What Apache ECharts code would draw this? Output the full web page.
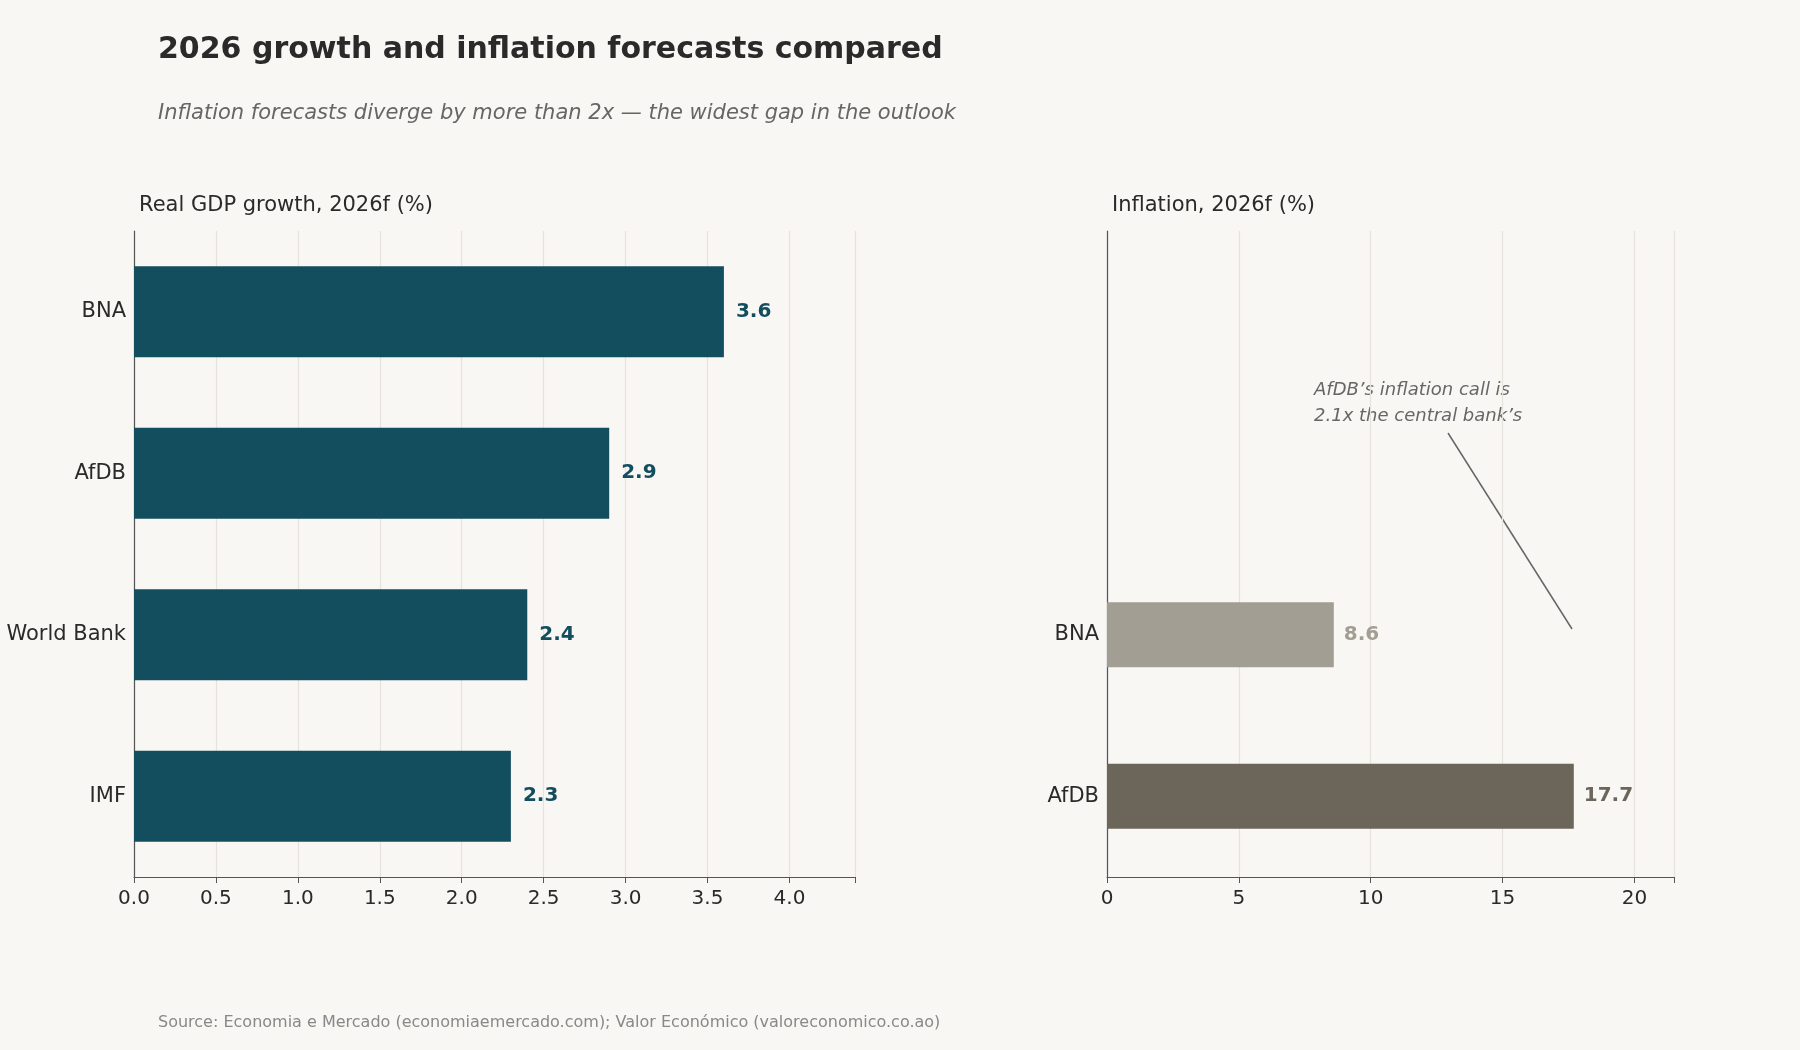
<!DOCTYPE html>
<html><head><meta charset="utf-8">
<script src="https://cdn.jsdelivr.net/npm/echarts@6/dist/echarts.min.js"></script>
<style>html,body{margin:0;background:#f9f7f4}#c{width:1800px;height:1050px}</style>
</head><body><div id="c"></div>
<script>
var gdpCats = ['BNA', 'AfDB', 'World Bank', 'IMF'];
var gdpVals = [3.6, 2.9, 2.4, 2.3];
var infCats = ['', ' ', 'BNA', 'AfDB'];
var infVals = [null, null, 8.6, 17.7];
var infColors = ['#a39e93', '#a39e93', '#a39e93', '#6b655a'];

var chart = echarts.init(document.getElementById('c'));
var font = 'DejaVu Sans';
var axisLine = {show: true, lineStyle: {color: '#555', width: 1.2}};
var split = {show: true, lineStyle: {color: '#e6e2dc', width: 1.2}};

chart.setOption({
  backgroundColor: '#f9f7f4',
  textStyle: {fontFamily: font},
  title: [
    {text: '2026 growth and inflation forecasts compared', left: 153, top: 30,
      textStyle: {fontSize: 30, fontWeight: 'bold', color: '#2a2a2a', fontFamily: font}},
    {text: 'Inflation forecasts diverge by more than 2x \u2014 the widest gap in the outlook', left: 153, top: 98,
      textStyle: {fontSize: 21, fontStyle: 'italic', fontWeight: 'normal', color: '#666', fontFamily: font}},
    {text: 'Real GDP growth, 2026f (%)', left: 134, top: 190,
      textStyle: {fontSize: 21, fontWeight: 'normal', color: '#2a2a2a', fontFamily: font}},
    {text: 'Inflation, 2026f (%)', left: 1107, top: 190,
      textStyle: {fontSize: 21, fontWeight: 'normal', color: '#2a2a2a', fontFamily: font}},
    {text: 'Source: Economia e Mercado (economiaemercado.com); Valor Econ\u00f3mico (valoreconomico.co.ao)', left: 153, top: 1010,
      textStyle: {fontSize: 16, fontWeight: 'normal', color: '#888', fontFamily: font}}
  ],
  grid: [
    {left: 134, width: 721, top: 231, height: 646},
    {left: 1107, width: 567, top: 231, height: 646}
  ],
  xAxis: [
    {gridIndex: 0, type: 'value', min: 0, max: 4.4, interval: 0.5, axisLine: axisLine,
      axisTick: {show: true, length: 6, lineStyle: {color: '#555'}}, splitLine: split,
      axisLabel: {fontSize: 20, color: '#2a2a2a', margin: 12,
        formatter: function (v) { return v > 4.05 ? '' : v.toFixed(1); }}},
    {gridIndex: 1, type: 'value', min: 0, max: 21.5, interval: 5, axisLine: axisLine,
      axisTick: {show: true, length: 6, lineStyle: {color: '#555'}}, splitLine: split,
      axisLabel: {fontSize: 20, color: '#2a2a2a', margin: 12,
        formatter: function (v) { return v > 20.5 ? '' : v; }}}
  ],
  yAxis: [
    {gridIndex: 0, type: 'category', data: gdpCats, inverse: true, axisLine: axisLine,
      axisTick: {show: false}, axisLabel: {fontSize: 21, color: '#2a2a2a', margin: 8}},
    {gridIndex: 1, type: 'category', data: infCats, inverse: true, axisLine: axisLine,
      axisTick: {show: false}, axisLabel: {fontSize: 21, color: '#2a2a2a', margin: 8}}
  ],
  series: [
    {type: 'bar', xAxisIndex: 0, yAxisIndex: 0, data: gdpVals, barWidth: 91,
      itemStyle: {color: '#134e5e'},
      label: {show: true, position: 'right', distance: 12, fontSize: 20, fontWeight: 'bold', color: '#134e5e'}},
    {type: 'bar', xAxisIndex: 1, yAxisIndex: 1, barWidth: 65,
      data: infVals.map(function (v, i) {
        return {value: v, itemStyle: {color: infColors[i]},
          label: {color: infColors[i]}};
      }),
      label: {show: true, position: 'right', distance: 10, fontSize: 20, fontWeight: 'bold'}}
  ],
  graphic: [
    {type: 'text', left: 1314, top: 377, style: {text: 'AfDB\u2019s inflation call is\n2.1x the central bank\u2019s',
      align: 'center', fontSize: 18, fontStyle: 'italic', fill: '#666', lineHeight: 26, fontFamily: font},
      x: 0},
    {type: 'line', shape: {x1: 1448, y1: 433, x2: 1572, y2: 629}, style: {stroke: '#666', lineWidth: 1.5}}
  ]
});
</script></body></html>
